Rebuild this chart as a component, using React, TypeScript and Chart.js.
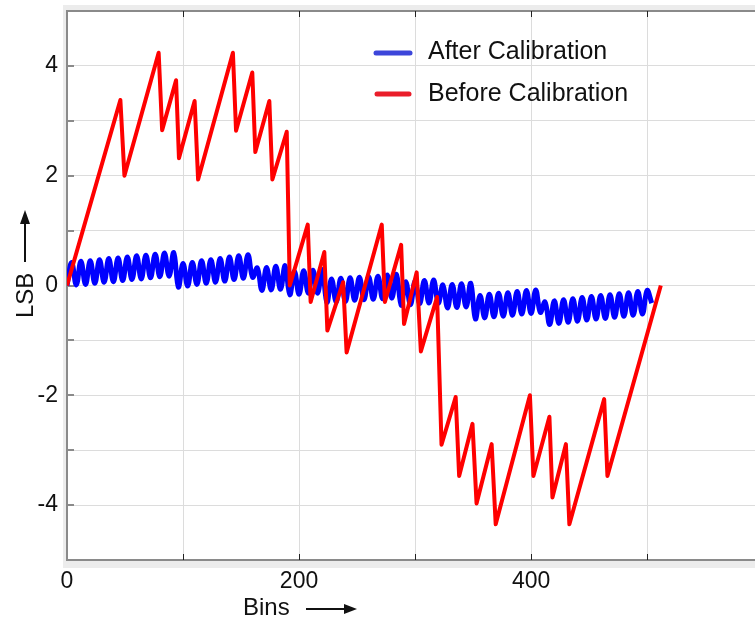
import React, { useEffect, useRef } from "react";
import { Chart, registerables } from "chart.js";

Chart.register(...registerables);

const FONT = "'Liberation Sans', Arial, Helvetica, sans-serif";

// Axis settings / tick labels
const X_MIN = 0;
const X_MAX = 593;
const Y_MIN = -5;
const Y_MAX = 5;
const xGridValues = [0, 100, 200, 300, 400, 500];
const xTickLabels = [0, 200, 400];
const yGridValues = [-5, -4, -3, -2, -1, 0, 1, 2, 3, 4, 5];
const yTickLabels = [-4, -2, 0, 2, 4];

const seriesLabels = ["After Calibration", "Before Calibration"];
const xTitle = "Bins";
const yTitle = "LSB";

// Before Calibration (red) vertices: bin positions and LSB values
const beforeBins = [
  0, 46, 49.5, 79, 82, 94, 96.5, 110, 113, 143, 145.7, 159.7, 162.3, 174.4, 177, 189.4, 192,
  207.5, 210, 221.8, 224.4, 238, 241, 271.3, 274, 288, 290.5, 301.4, 305, 319, 322.8, 335, 338,
  349.5, 353, 366, 369.5, 399, 402, 415.8, 418.4, 430, 433, 463, 465.8, 511.8,
];
const beforeValues = [
  0, 3.38, 2.0, 4.24, 2.83, 3.74, 2.32, 3.36, 1.93, 4.24, 2.82, 3.88, 2.43, 3.36, 1.93, 2.8, 0,
  1.11, -0.3, 0.61, -0.82, 0.06, -1.22, 1.11, -0.3, 0.74, -0.7, 0.24, -1.2, -0.21, -2.9, -2.03, -3.47,
  -2.52, -3.97, -2.89, -4.35, -2.0, -3.47, -2.39, -3.86, -2.89, -4.35, -2.07, -3.47, 0,
];

// After Calibration (blue): one value every 4 bins (troughs / peaks of the ripple)
const afterStep = 4;
const afterValues = [
  0.0, 0.42, 0.01, 0.44, 0.02, 0.45, 0.04, 0.47, 0.06, 0.49, 0.07, 0.5, 0.09, 0.52, 0.11, 0.54,
  0.12, 0.55, 0.14, 0.57, 0.16, 0.59, 0.17, 0.6,
  -0.03, 0.4, -0.01, 0.42, 0.02, 0.45, 0.04, 0.47, 0.06, 0.49, 0.08, 0.52, 0.11, 0.54, 0.13, 0.56, 0.15,
  0.32, -0.09, 0.33, -0.08, 0.35, -0.07, 0.36,
  -0.17, 0.26, -0.16, 0.27, -0.14, 0.28, -0.14, 0.29,
  -0.31, 0.12, -0.3, 0.13, -0.29, 0.14, -0.27, 0.15, -0.26, 0.16, -0.25, 0.17, -0.24, 0.19, -0.23, 0.2,
  -0.36, 0.07, -0.35, 0.08, -0.33, 0.09, -0.32, 0.1, -0.32,
  0.01, -0.41, 0.02, -0.4, 0.03, -0.39, 0.04,
  -0.61, -0.18, -0.59, -0.16, -0.57, -0.14, -0.56, -0.13, -0.54, -0.11, -0.52, -0.09, -0.51, -0.08, -0.49,
  -0.3, -0.71, -0.28, -0.69, -0.26, -0.67, -0.24, -0.65, -0.22, -0.63, -0.2, -0.61, -0.18, -0.6, -0.17,
  -0.58, -0.15, -0.56, -0.13, -0.54, -0.11, -0.52, -0.09, -0.32,
];

const RED = "#ff0000";
const BLUE = "#0000ff";
const LEGEND_RED = "#ea1d2a";
const LEGEND_BLUE = "#3c46da";

const framePlugin = {
  id: "frame",
  beforeDraw(chart: any) {
    const { ctx, chartArea: a, width, height } = chart;
    ctx.save();
    ctx.fillStyle = "#ffffff";
    ctx.fillRect(0, 0, width, height);
    ctx.fillStyle = "#ececec";
    ctx.fillRect(a.left - 4, a.top - 6, a.right - a.left + 8, a.bottom - a.top + 14);
    ctx.fillStyle = "#ffffff";
    ctx.fillRect(a.left, a.top, a.right - a.left, a.bottom - a.top);
    ctx.restore();
  },
  beforeDatasetsDraw(chart: any) {
    const { ctx, chartArea: a, scales } = chart;
    ctx.save();
    ctx.strokeStyle = "#8a8a8a";
    ctx.lineWidth = 2;
    ctx.beginPath();
    ctx.moveTo(a.right + 2, a.top);
    ctx.lineTo(a.left, a.top);
    ctx.lineTo(a.left, a.bottom);
    ctx.lineTo(a.right + 2, a.bottom);
    ctx.stroke();
    ctx.strokeStyle = "#222";
    ctx.lineWidth = 1;
    scales.x.ticks.forEach((t: any) => {
      const px = Math.round(scales.x.getPixelForValue(t.value)) + 0.5;
      if (px <= a.left + 2) return;
      ctx.beginPath();
      ctx.moveTo(px, a.top);
      ctx.lineTo(px, a.top + 6);
      ctx.moveTo(px, a.bottom);
      ctx.lineTo(px, a.bottom - 6);
      ctx.stroke();
    });
    ctx.strokeStyle = "#8a8a8a";
    ctx.lineWidth = 2;
    scales.y.ticks.forEach((t: any) => {
      const py = Math.round(scales.y.getPixelForValue(t.value));
      ctx.beginPath();
      ctx.moveTo(a.left, py);
      ctx.lineTo(a.left + 7, py);
      ctx.stroke();
    });
    ctx.restore();
  },
  afterDraw(chart: any) {
    const { ctx } = chart;
    const ds = chart.data.datasets;
    ctx.save();
    const legendColors = [LEGEND_BLUE, LEGEND_RED];
    const rows = [
      { y: 53, x0: 376, x1: 410, ty: 59 },
      { y: 94, x0: 377, x1: 409, ty: 101 },
    ];
    ds.forEach((d: any, i: number) => {
      const r = rows[i];
      ctx.strokeStyle = legendColors[i];
      ctx.lineWidth = 5;
      ctx.lineCap = "round";
      ctx.beginPath();
      ctx.moveTo(r.x0, r.y);
      ctx.lineTo(r.x1, r.y);
      ctx.stroke();
      ctx.fillStyle = "#111";
      ctx.font = `25px ${FONT}`;
      ctx.textAlign = "left";
      ctx.textBaseline = "alphabetic";
      ctx.fillText(d.label, 428, r.ty);
    });

    ctx.fillStyle = "#111";
    ctx.strokeStyle = "#111";
    ctx.font = `24px ${FONT}`;
    ctx.textAlign = "left";
    ctx.textBaseline = "alphabetic";
    ctx.fillText(xTitle, 243, 615);
    ctx.lineWidth = 2;
    ctx.lineCap = "butt";
    ctx.beginPath();
    ctx.moveTo(306, 609);
    ctx.lineTo(346, 609);
    ctx.stroke();
    ctx.beginPath();
    ctx.moveTo(357, 609);
    ctx.lineTo(344, 604);
    ctx.lineTo(344, 614);
    ctx.closePath();
    ctx.fill();

    ctx.save();
    ctx.translate(33, 318);
    ctx.rotate(-Math.PI / 2);
    ctx.font = `24px ${FONT}`;
    ctx.fillText(yTitle, 0, 0);
    ctx.restore();
    ctx.lineWidth = 2;
    ctx.beginPath();
    ctx.moveTo(25, 262);
    ctx.lineTo(25, 222);
    ctx.stroke();
    ctx.beginPath();
    ctx.moveTo(25, 210);
    ctx.lineTo(20, 224);
    ctx.lineTo(30, 224);
    ctx.closePath();
    ctx.fill();
    ctx.restore();
  },
};

export default function App() {
  const canvasRef = useRef<HTMLCanvasElement | null>(null);

  useEffect(() => {
    document.body.style.margin = "0";
    document.body.style.overflow = "hidden";
    const canvas = canvasRef.current;
    if (!canvas) return;

    const redPoints = beforeBins.map((b, i) => ({ x: b, y: beforeValues[i] }));
    const bluePoints = afterValues.map((v, i) => ({ x: i * afterStep, y: v }));

    const chart = new Chart(canvas, {
      type: "line",
      data: {
        datasets: [
          {
            label: seriesLabels[0],
            data: bluePoints,
            borderColor: BLUE,
            borderWidth: 5,
            pointRadius: 0,
            tension: 0.4,
            fill: false,
            order: 1,
          },
          {
            label: seriesLabels[1],
            data: redPoints,
            borderColor: RED,
            borderWidth: 4,
            pointRadius: 0,
            tension: 0,
            borderJoinStyle: "round",
            fill: false,
            order: 0,
          },
        ],
      },
      options: {
        responsive: false,
        animation: false,
        devicePixelRatio: 1,
        layout: { padding: { top: 11, right: 0, left: 0, bottom: 0 } },
        plugins: {
          legend: { display: false },
          tooltip: { enabled: false },
        },
        scales: {
          x: {
            type: "linear",
            min: X_MIN,
            max: X_MAX,
            border: { display: false },
            grid: { color: "#dcdcdc", lineWidth: 1, drawTicks: false },
            ticks: {
              autoSkip: false,
              maxRotation: 0,
              minRotation: 0,
              padding: 8,
              color: "#111",
              font: { family: FONT, size: 23 },
              callback: (v: any) => (xTickLabels.indexOf(Math.round(Number(v))) >= 0 ? String(Math.round(Number(v))) : ""),
            },
            afterBuildTicks: (s: any) => {
              s.ticks = xGridValues.map((v) => ({ value: v }));
              s.min = X_MIN;
              s.max = X_MAX;
            },
            afterFit: (s: any) => {
              s.height = 58;
              s.paddingLeft = 0;
              s.paddingRight = 0;
            },
          },
          y: {
            type: "linear",
            min: Y_MIN,
            max: Y_MAX,
            border: { display: false },
            grid: { color: "#dcdcdc", lineWidth: 1, drawTicks: false },
            ticks: {
              autoSkip: false,
              padding: 9,
              color: "#111",
              font: { family: FONT, size: 23 },
              callback: (v: any) => (yTickLabels.indexOf(Math.round(Number(v))) >= 0 ? String(Math.round(Number(v))) : ""),
            },
            afterBuildTicks: (s: any) => {
              s.ticks = yGridValues.map((v) => ({ value: v }));
              s.min = Y_MIN;
              s.max = Y_MAX;
            },
            afterFit: (s: any) => {
              s.width = 67;
              s.paddingTop = 0;
              s.paddingBottom = 0;
            },
          },
        },
      },
      plugins: [framePlugin],
    });

    return () => chart.destroy();
  }, []);

  return (
    <div style={{ position: "fixed", left: 0, top: 0, width: 755, height: 618, background: "#fff" }}>
      <canvas ref={canvasRef} width={755} height={618} style={{ display: "block" }} />
    </div>
  );
}
